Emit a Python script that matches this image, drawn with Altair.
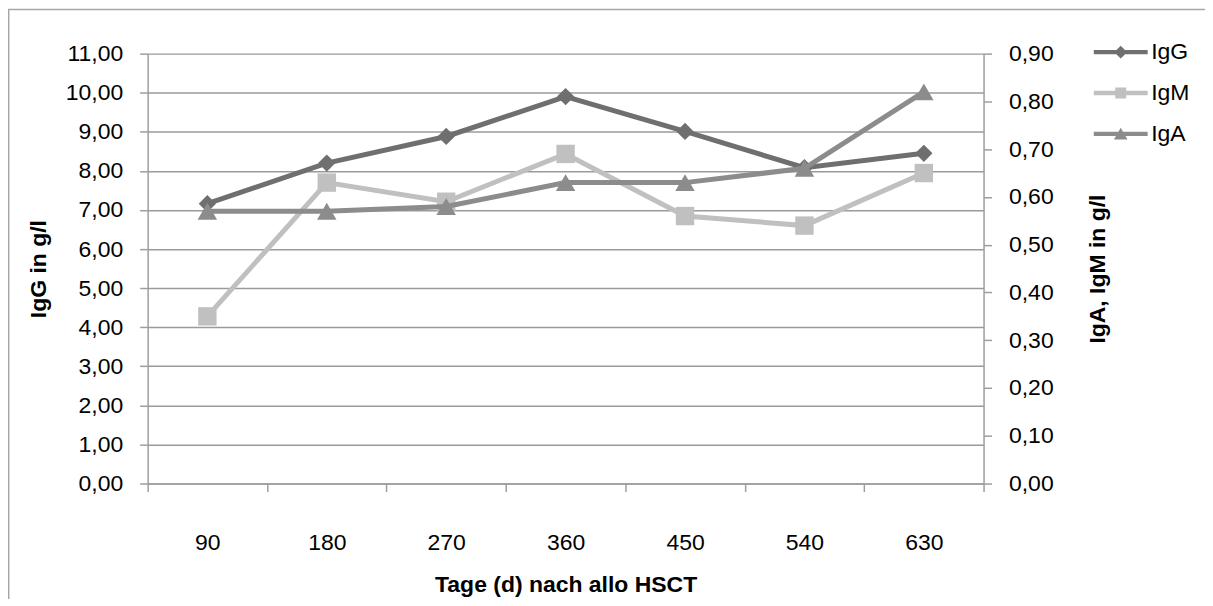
import altair as alt
import pandas as pd

days = ["90", "180", "270", "360", "450", "540", "630"]
igg = [7.16, 8.20, 8.88, 9.90, 9.01, 8.08, 8.45]
igm = [0.35, 0.63, 0.59, 0.69, 0.56, 0.54, 0.65]
iga = [0.57, 0.57, 0.58, 0.63, 0.63, 0.66, 0.82]

series_names = ["IgG", "IgM", "IgA"]
series_colors = ["#6f6f6f", "#c0c0c0", "#8c8c8c"]

left_ticks = [0, 1, 2, 3, 4, 5, 6, 7, 8, 9, 10, 11]
right_ticks = [0, 0.1, 0.2, 0.3, 0.4, 0.5, 0.6, 0.7, 0.8, 0.9]

FONT = "Liberation Sans"
FS = 23

df_g = pd.DataFrame({"day": days, "value": igg, "series": "IgG"})
df_m = pd.DataFrame({"day": days, "value": igm, "series": "IgM"})
df_a = pd.DataFrame({"day": days, "value": iga, "series": "IgA"})

fmt = "replace(format(datum.value, '.2f'), '.', ',')"

x_enc = alt.X(
    "day:O",
    sort=days,
    bandPosition=0.5,
    scale=alt.Scale(type="band", paddingInner=0, paddingOuter=0),
    axis=alt.Axis(
        title="Tage (d) nach allo HSCT",
        labelAngle=0,
        tickBand="extent",
        grid=False,
        domainColor="#9e9e9e",
        tickColor="#9e9e9e",
        domainWidth=1.5,
        tickWidth=1.5,
        tickSize=8,
        labelPadding=40,
        titlePadding=19,
    ),
)

y_left = alt.Y(
    "value:Q",
    scale=alt.Scale(domain=[0, 11], nice=False),
    axis=alt.Axis(
        title="IgG in g/l",
        orient="left",
        values=left_ticks,
        labelExpr=fmt,
        grid=True,
        gridColor="#9a9a9a",
        gridWidth=1.5,
        domainColor="#9e9e9e",
        tickColor="#9e9e9e",
        domainWidth=1.5,
        tickWidth=1.5,
        tickSize=8,
        labelPadding=17,
        titlePadding=15,
    ),
)

y_right = alt.Y(
    "value:Q",
    scale=alt.Scale(domain=[0, 0.9], nice=False),
    axis=alt.Axis(
        title="IgA, IgM in g/l",
        orient="right",
        values=right_ticks,
        labelExpr=fmt,
        grid=False,
        domainColor="#9e9e9e",
        tickColor="#9e9e9e",
        domainWidth=1.5,
        tickWidth=1.5,
        tickSize=8,
        labelPadding=17,
        titlePadding=56,
        titleAngle=270,
    ),
)

LW = 5

border = alt.Chart(alt.Data(values=[{"a": 1}])).mark_rect(
    fill=None, stroke="#a6a6a6", strokeWidth=1.5, clip=False
).encode(
    x=alt.value(-139.3), x2=alt.value(1100), y=alt.value(-44.3), y2=alt.value(600)
)

g_line = alt.Chart(df_g).mark_line(color=series_colors[0], strokeWidth=LW).encode(x=x_enc, y=y_left)
g_pts = alt.Chart(df_g).mark_point(
    shape="diamond", filled=True, color=series_colors[0], size=300, opacity=1
).encode(x=x_enc, y=y_left)

left = alt.layer(border, g_line, g_pts)

m_line = alt.Chart(df_m).mark_line(color=series_colors[1], strokeWidth=LW).encode(x=x_enc, y=y_right)
m_pts = alt.Chart(df_m).mark_point(
    shape="square", filled=True, color=series_colors[1], size=340, opacity=1
).encode(x=x_enc, y=y_right)
a_line = alt.Chart(df_a).mark_line(color=series_colors[2], strokeWidth=LW).encode(x=x_enc, y=y_right)
a_pts = alt.Chart(df_a).mark_point(
    shape="triangle-up", filled=True, color=series_colors[2], size=380, opacity=1
).encode(x=x_enc, y=y_right)

# legend symbols: line + marker drawn as custom paths (scale: 10 px per unit)
leg_shapes = [
    "M-2.7,-0.22H2.7V0.22H-2.7Z M0,-0.65L0.65,0L0,0.65L-0.65,0Z",
    "M-2.7,-0.22H2.7V0.22H-2.7Z M-0.55,-0.55H0.55V0.55H-0.55Z",
    "M-2.7,-0.22H2.7V0.22H-2.7Z M0,-0.62L0.68,0.55H-0.68Z",
]
# legend carrier points sit outside the y domain and are clipped away
df_leg = pd.DataFrame({"day": days[:3], "value": [-1, -1, -1], "series": series_names})
legend_layer = alt.Chart(df_leg).mark_point(filled=True, size=400, clip=True, opacity=1).encode(
    x=x_enc,
    y=y_right,
    color=alt.Color(
        "series:N",
        sort=series_names,
        scale=alt.Scale(domain=series_names, range=series_colors),
        legend=alt.Legend(
            title=None,
            orient="none",
            legendX=964,
            legendY=-13,
            symbolOpacity=1,
            symbolStrokeWidth=0,
            symbolSize=400,
            labelFont=FONT,
            labelFontSize=FS,
            labelColor="#000000",
            labelOffset=19,
            rowPadding=17,
            padding=0,
        ),
    ),
    shape=alt.Shape(
        "series:N",
        sort=series_names,
        scale=alt.Scale(domain=series_names, range=leg_shapes),
    ),
)

right = alt.layer(m_line, m_pts, a_line, a_pts, legend_layer)

chart = (
    alt.layer(left, right)
    .resolve_scale(y="independent")
    .properties(
        width=838,
        height=431,
        background="white",
        autosize=alt.AutoSizeParams(type="none"),
        padding={"left": 140, "top": 45, "right": 222, "bottom": 115},
    )
    .configure_view(strokeWidth=0)
    .configure_axis(
        labelFont=FONT,
        labelFontSize=FS,
        labelColor="#000000",
        titleFont=FONT,
        titleFontSize=FS,
        titleFontWeight="bold",
        titleColor="#000000",
    )
)

chart.save("out.html", embed_options={"renderer": "svg", "actions": False})
